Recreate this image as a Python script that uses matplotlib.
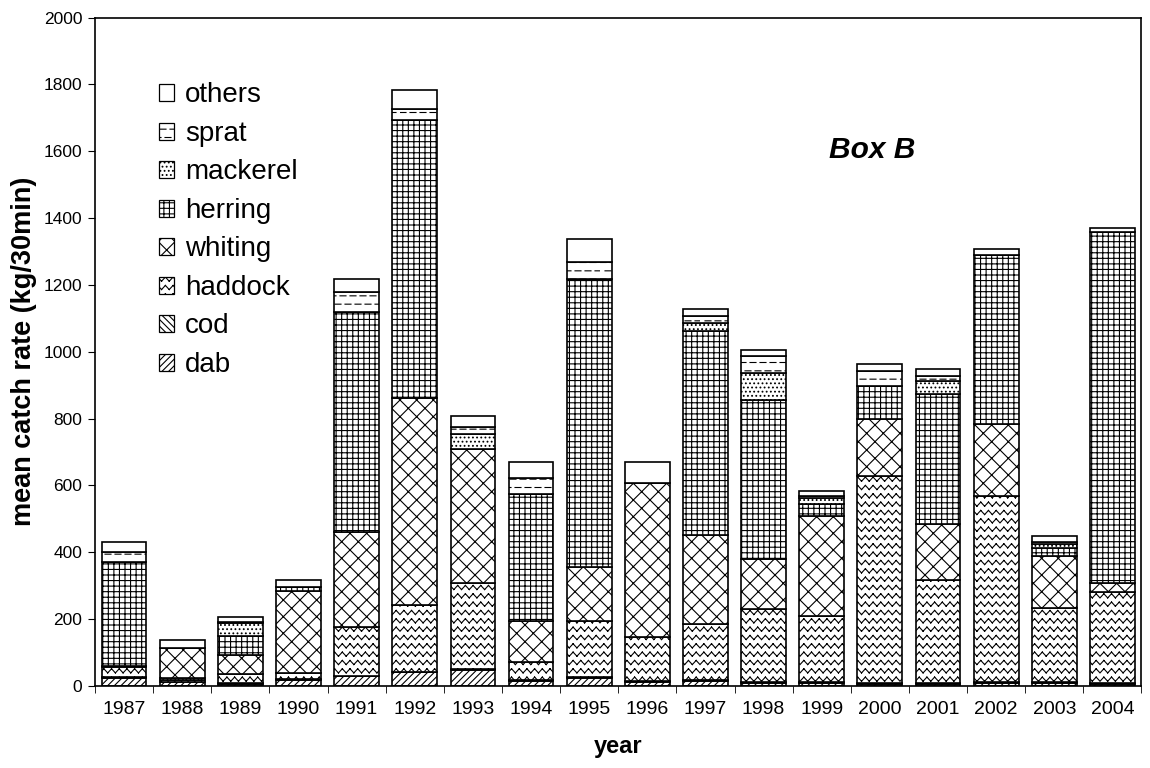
import warnings

import matplotlib
matplotlib.use("Agg")
import matplotlib.pyplot as plt
import matplotlib.hatch as mhatch
from matplotlib.patches import Patch
from matplotlib.path import Path
import numpy as np

warnings.filterwarnings("ignore")

years = [str(y) for y in range(1987, 2005)]

# segment sizes (kg/30min)
dab = [22, 12, 6, 18, 30, 40, 46, 15, 24, 10, 15, 8, 8, 6, 6, 8, 8, 6]
cod = [5, 4, 2, 2, 0, 2, 3, 2, 2, 3, 3, 2, 2, 2, 2, 2, 2, 2]
haddock = [28, 7, 28, 18, 145, 200, 260, 53, 167, 133, 167, 220, 198, 621, 309, 558, 223, 272]
whiting = [3, 90, 57, 246, 286, 621, 399, 123, 163, 461, 267, 150, 299, 169, 168, 217, 156, 27]
herring = [314, 0, 55, 13, 659, 831, 0, 382, 863, 0, 609, 476, 38, 100, 389, 504, 25, 1052]
mackerel = [0, 0, 39, 0, 0, 0, 45, 0, 0, 0, 25, 80, 17, 0, 37, 0, 11, 0]
sprat = [28, 0, 3, 0, 58, 33, 23, 47, 49, 0, 20, 52, 5, 45, 17, 0, 7, 0]
others = [32, 23, 17, 20, 39, 55, 33, 49, 70, 64, 22, 18, 15, 20, 20, 20, 17, 12]

species = ["dab", "cod", "haddock", "whiting", "herring", "mackerel", "sprat", "others"]
series = [dab, cod, haddock, whiting, herring, mackerel, sprat, others]


# --- two extra hatch patterns: zigzag rows ('z') and dashed rows ('d') ---
# drawn as separate segments so agg doesn't fill them
class ZigZag(mhatch.HatchPatternBase):
    def __init__(self, hatch, density):
        self.rows = hatch.count("z") * density
        self.teeth = int(round(self.rows * 1.1))
        self.num_vertices = self.rows * self.teeth * 4

    def set_vertices_and_codes(self, vertices, codes):
        h = 1.0 / self.rows
        amp = 0.25 * h
        w = 1.0 / self.teeth
        k = 0
        for r in range(self.rows):
            y0 = (r + 0.5) * h
            for t in range(self.teeth):
                xa = t * w
                pts = [(xa, y0 - amp), (xa + w / 2, y0 + amp),
                       (xa + w / 2, y0 + amp), (xa + w, y0 - amp)]
                for i, p in enumerate(pts):
                    vertices[k] = p
                    codes[k] = Path.MOVETO if i % 2 == 0 else Path.LINETO
                    k += 1


class DashRows(mhatch.HatchPatternBase):
    def __init__(self, hatch, density):
        self.rows = hatch.count("d") * density
        self.dashes = 10
        self.num_vertices = self.rows * self.dashes * 2

    def set_vertices_and_codes(self, vertices, codes):
        k = 0
        for r in range(self.rows):
            y = (r + 0.5) / self.rows
            shift = 0.5 if r % 2 else 0.0
            for d in range(self.dashes):
                x0 = ((d + shift) / self.dashes) % 1.0
                x1 = min(x0 + 0.6 / self.dashes, 1.0)
                vertices[k] = x0, y
                vertices[k + 1] = x1, y
                codes[k] = Path.MOVETO
                codes[k + 1] = Path.LINETO
                k += 2


mhatch._hatch_types.append(ZigZag)
mhatch._hatch_types.append(DashRows)

hatches = {
    "dab": "/////",
    "cod": "\\\\\\\\\\",
    "haddock": "zz",
    "whiting": "xx",
    "herring": "+++",
    "mackerel": "....",
    "sprat": "dd",
    "others": "",
}

plt.rcParams["font.family"] = ["Liberation Sans", "DejaVu Sans"]
plt.rcParams["hatch.linewidth"] = 0.8
plt.rcParams["hatch.color"] = "black"

fig = plt.figure(figsize=(11.5, 7.68), dpi=100)
ax = fig.add_axes([0.0826, 0.107, 0.910, 0.870])

x = np.arange(len(years))
bottom = np.zeros(len(years))
for name, vals in zip(species, series):
    vals = np.array(vals, dtype=float)
    ax.bar(x, vals, width=0.77, bottom=bottom, color="white", edgecolor="black",
           linewidth=1.2, hatch=hatches[name])
    bottom += vals

ax.set_xlim(-0.5, len(years) - 0.5)
ax.set_ylim(0, 2000)
ax.set_yticks(range(0, 2001, 200))
ax.tick_params(axis="y", direction="out", length=5, labelsize=12.5, pad=4)
ax.set_xticks(x)
ax.set_xticklabels(years, fontsize=14)
ax.tick_params(axis="x", length=0, pad=11)
ax.set_xticks(np.arange(-0.5, len(years)), minor=True)
ax.tick_params(axis="x", which="minor", direction="out", length=5)
for s in ax.spines.values():
    s.set_linewidth(1.2)

ax.set_xlabel("year", fontsize=17, fontweight="bold", labelpad=12)
ax.set_ylabel("mean catch rate (kg/30min)", fontsize=19.5, fontweight="bold", labelpad=5)

handles = [Patch(facecolor="white", edgecolor="black", linewidth=0.9, hatch=hatches[n],
                 label=n) for n in species]
ax.legend(handles[::-1], species[::-1], loc="upper left", bbox_to_anchor=(0.061, 0.903),
          frameon=False, fontsize=20, handlelength=0.55, handleheight=0.55,
          handletextpad=0.4, labelspacing=0.45, borderpad=0, borderaxespad=0)

ax.text(0.743, 0.802, "Box B", transform=ax.transAxes, fontsize=21.5, fontweight="bold",
        fontstyle="italic", ha="center", va="center")

fig.savefig("out.png", dpi=100)
print("saved out.png")
